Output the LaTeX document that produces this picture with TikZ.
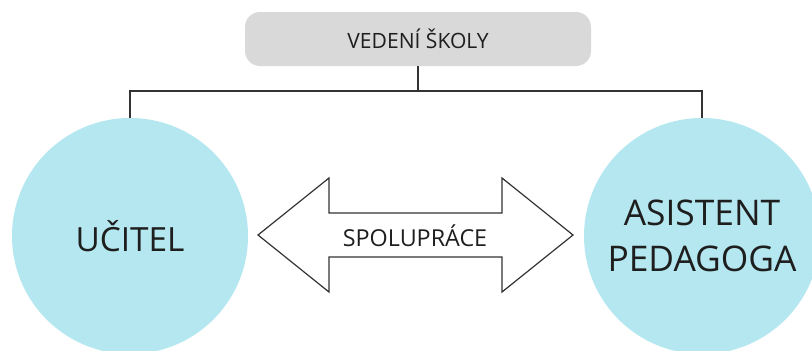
\documentclass[tikz,border=0pt]{standalone}
\usepackage{fontspec}
\setmainfont{Open Sans}
\usetikzlibrary{positioning}
\definecolor{Ink}{HTML}{1E1E1E}
\definecolor{Line}{HTML}{333333}
\definecolor{Grey}{HTML}{D9D9D9}
\definecolor{Cyan}{HTML}{B4E7EF}
\tikzset{head/.style={rounded corners=15*0.75pt,fill=Grey,minimum width=346*0.75pt,minimum height=54*0.75pt,inner sep=0pt,text=Ink,font=\fontsize{15.8}{18}\selectfont},role/.style={circle,fill=Cyan,minimum size=236*0.75pt,inner sep=0pt,align=center,text=Ink,font=\fontsize{25}{34.5}\selectfont},link/.style={draw=Line,line width=0.9pt},twoway/.style={draw=Line,line width=0.9pt,fill=white,line join=miter}}

\begin{document}
\begin{tikzpicture}[x=0.75pt,y=-0.75pt]
      \clip (0,0) rectangle (812,350);
      \node[head](vedeni) at (418,39){VEDENÍ ŠKOLY};
      \node[role](ucitel) at (130,236){UČITEL};
      \node[role,font=\fontsize{26.5}{35}\selectfont](asistent) at (702,236){ASISTENT\\PEDAGOGA};
      \coordinate (split) at (vedeni.south |- 0,91);
      \draw[link](vedeni.south)--(split);
      \draw[link](ucitel.north)|-(split)-|(asistent.north);
      \draw[twoway](258,235)--(329,178)--(329,213)--(502,213)--(502,178)--(573,235)--(502,292)--(502,257)--(329,257)--(329,292)--cycle;
      \node[text=Ink,font=\fontsize{17.5}{20}\selectfont](spoluprace) at (415,236){SPOLUPRÁCE};
    \end{tikzpicture}
\end{document}
